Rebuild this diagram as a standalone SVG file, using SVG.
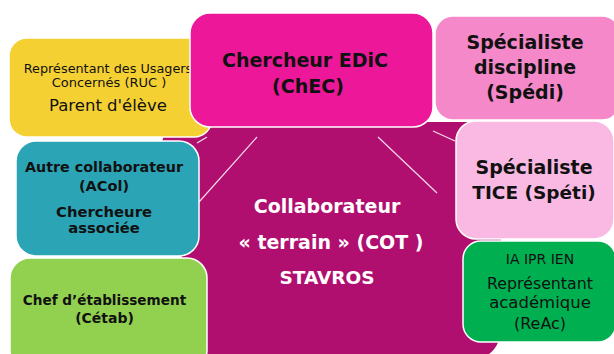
<svg xmlns="http://www.w3.org/2000/svg" width="614" height="354" viewBox="0 0 614 354">
<style>
.box{stroke:#ffffff;stroke-width:1.5}
.t{font-family:"DejaVu Sans",sans-serif;fill:#111111;text-anchor:middle}
.b{font-weight:bold}
.w{fill:#ffffff}
.conn{stroke:#ffffff;stroke-width:1.2;fill:none;opacity:0.85}
</style>
<rect width="614" height="354" fill="#ffffff"/>
<g id="node-cot">
<path d="M195,122 H466 Q501,122 501,157 V325 Q501,360 466,360 H190 L182,258 L161,152 Q160,122 195,122 Z" fill="#B10F70"/>
<text class="t b w" x="327" y="213" font-size="19">Collaborateur</text>
<text class="t b w" x="331" y="249" font-size="19">« terrain » (COT )</text>
<text class="t b w" x="327" y="284" font-size="18.5">STAVROS</text>
</g>
<g id="connectors">
<line class="conn" x1="197" y1="143" x2="207" y2="137"/>
<line class="conn" x1="257" y1="137" x2="199" y2="202"/>
<line class="conn" x1="378" y1="137" x2="437" y2="193"/>
<line class="conn" x1="433" y1="131" x2="455" y2="141"/>
</g>
<g id="node-ruc">
<rect class="box" x="9" y="38" width="203" height="99" rx="18" fill="#F5D033"/>
<text class="t" x="108" y="73" font-size="12.8">Représentant des Usagers</text>
<text class="t" x="109" y="87" font-size="13">Concernés (RUC )</text>
<text class="t" x="108" y="111" font-size="16.5">Parent d'élève</text>
</g>
<g id="node-chec">
<rect class="box" x="190" y="13" width="243" height="114" rx="20" fill="#EC1899"/>
<text class="t b" x="305" y="67" font-size="19">Chercheur EDiC</text>
<text class="t b" x="308" y="93" font-size="19">(ChEC)</text>
</g>
<g id="node-spedi">
<rect class="box" x="435" y="16" width="185" height="104" rx="18" fill="#F488C8"/>
<text class="t b" x="525" y="49" font-size="19">Spécialiste</text>
<text class="t b" x="525" y="74" font-size="19">discipline</text>
<text class="t b" x="525" y="99" font-size="19">(Spédi)</text>
</g>
<g id="node-speti">
<rect class="box" x="456" y="121" width="158" height="118" rx="20" fill="#F9B9E2"/>
<text class="t b" x="534" y="174" font-size="19">Spécialiste</text>
<text class="t b" x="534" y="199" font-size="18.5">TICE (Spéti)</text>
</g>
<g id="node-reac">
<rect class="box" x="463" y="241" width="153" height="101" rx="18" fill="#00AF50"/>
<text class="t" x="540" y="264" font-size="14">IA IPR IEN</text>
<text class="t" x="540" y="289" font-size="15.8">Représentant</text>
<text class="t" x="540" y="308" font-size="16.5">académique</text>
<text class="t" x="540" y="329" font-size="16">(ReAc)</text>
</g>
<g id="node-acol">
<rect class="box" x="16" y="141" width="183" height="115" rx="20" fill="#2BA4B6"/>
<text class="t b" x="104" y="172" font-size="14.3">Autre collaborateur</text>
<text class="t b" x="104" y="191" font-size="14.5">(ACol)</text>
<text class="t b" x="104" y="217" font-size="14.8">Chercheure</text>
<text class="t b" x="104" y="233" font-size="14.8">associée</text>
</g>
<g id="node-cetab">
<rect class="box" x="10" y="258" width="197" height="112" rx="20" fill="#92D050"/>
<text class="t b" x="104.5" y="305" font-size="13.6">Chef d’établissement</text>
<text class="t b" x="104.5" y="323" font-size="14">(Cétab)</text>
</g>
</svg>
